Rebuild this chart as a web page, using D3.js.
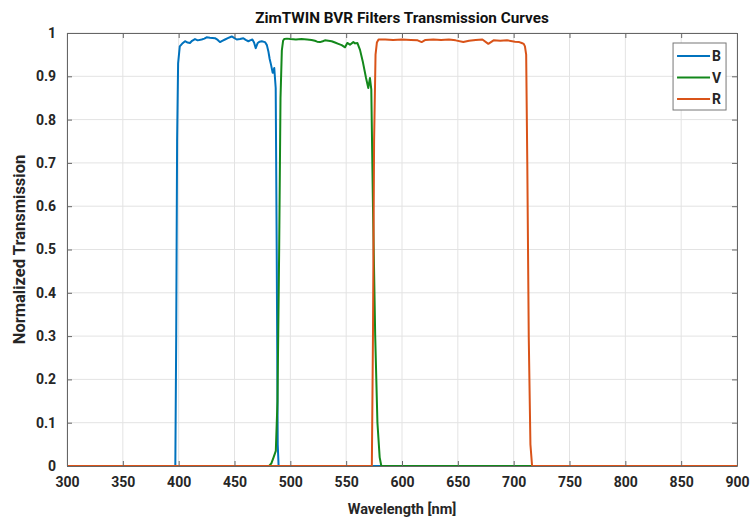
<!DOCTYPE html>
<html>
<head>
<meta charset="utf-8">
<script src="https://cdn.jsdelivr.net/npm/d3@7"></script>
<style>
  body { margin: 0; background: #fff; }
  text { font-family: Roboto, "DejaVu Sans", sans-serif; }
</style>
</head>
<body>
<svg id="chart" width="752" height="522"></svg>
<script>
// wavelength (nm) / transmission pairs
const bWave = [300, 397, 397.8, 398.6, 399.5, 401, 403, 405.7, 408, 410.1, 412, 414.6, 417, 420.6, 423, 425, 428, 432.5, 435, 437, 439, 441.5, 444, 447.5, 450, 452, 455, 457.9, 460, 462.4, 464, 466, 467.5, 469, 470.8, 472.5, 474.4, 477.3, 479, 480.3, 481.5, 482.7, 484.2, 485.6, 486.9, 487.8, 488.7, 489.5, 900];
const bVals = [0, 0, 0.3, 0.75, 0.93, 0.969, 0.975, 0.981, 0.978, 0.977, 0.982, 0.986, 0.983, 0.985, 0.987, 0.990, 0.989, 0.988, 0.984, 0.979, 0.982, 0.985, 0.988, 0.992, 0.988, 0.985, 0.986, 0.988, 0.984, 0.981, 0.983, 0.985, 0.978, 0.965, 0.977, 0.980, 0.981, 0.979, 0.972, 0.958, 0.94, 0.927, 0.908, 0.919, 0.873, 0.5, 0.05, 0, 0];

const vWave = [300, 481, 483, 485, 487, 488.5, 490, 491.2, 492.4, 493.5, 494.5, 497, 500, 505, 510, 515, 519, 522, 524, 526.6, 529, 531, 534, 537, 540, 543, 546, 549, 551, 553.4, 556.4, 558, 560, 562.4, 564.8, 567.8, 569.8, 571.3, 572.5, 574, 576, 578, 580, 581.5, 900];
const vVals = [0, 0, 0.006, 0.02, 0.035, 0.15, 0.5, 0.85, 0.96, 0.982, 0.986, 0.987, 0.986, 0.985, 0.986, 0.985, 0.984, 0.982, 0.98, 0.979, 0.981, 0.983, 0.982, 0.981, 0.978, 0.975, 0.972, 0.967, 0.977, 0.973, 0.979, 0.976, 0.977, 0.961, 0.935, 0.896, 0.873, 0.896, 0.87, 0.6, 0.3, 0.1, 0.02, 0, 0];

const rWave = [300, 573, 574, 575, 576.3, 577.5, 579, 585, 592, 600, 608, 614, 617.6, 621, 628, 635, 642, 648, 654.9, 660, 666, 672, 677.3, 682, 688, 694, 701.2, 705, 707.2, 709, 710.1, 711.2, 712.2, 713.5, 715, 716.5, 900];
const rVals = [0, 0, 0.3, 0.75, 0.95, 0.978, 0.985, 0.985, 0.984, 0.985, 0.984, 0.983, 0.979, 0.984, 0.985, 0.984, 0.985, 0.983, 0.979, 0.982, 0.984, 0.985, 0.975, 0.983, 0.982, 0.983, 0.98, 0.979, 0.977, 0.975, 0.969, 0.95, 0.7, 0.3, 0.05, 0, 0];

const seriesNames = ["B", "V", "R"];
const seriesColors = ["#0072bd", "#13881b", "#d95319"];
const xTicks = [300, 350, 400, 450, 500, 550, 600, 650, 700, 750, 800, 850, 900];
const yTicks = [0, 0.1, 0.2, 0.3, 0.4, 0.5, 0.6, 0.7, 0.8, 0.9, 1];

const series = [
    { name: seriesNames[0], color: seriesColors[0], pts: bWave.map((w, i) => [w, bVals[i]]) },
    { name: seriesNames[1], color: seriesColors[1], pts: vWave.map((w, i) => [w, vVals[i]]) },
    { name: seriesNames[2], color: seriesColors[2], pts: rWave.map((w, i) => [w, rVals[i]]) }
];

const margin = { top: 33, right: 15, bottom: 56, left: 67 };
const W = 752, H = 522;
const width = W - margin.left - margin.right;
const height = H - margin.top - margin.bottom;

const svg = d3.select("#chart");
const g = svg.append("g").attr("transform", `translate(${margin.left},${margin.top})`);

const x = d3.scaleLinear().domain([300, 900]).range([0, width]);
const y = d3.scaleLinear().domain([0, 1]).range([height, 0]);

// grid
g.append("g").selectAll("line").data(xTicks).join("line")
    .attr("x1", d => x(d)).attr("x2", d => x(d)).attr("y1", 0).attr("y2", height)
    .attr("stroke", "#e3e3e3").attr("stroke-width", 1);
g.append("g").selectAll("line").data(yTicks).join("line")
    .attr("x1", 0).attr("x2", width).attr("y1", d => y(d)).attr("y2", d => y(d))
    .attr("stroke", "#e3e3e3").attr("stroke-width", 1);

// curves
const line = d3.line().x(d => x(d[0])).y(d => y(d[1]));
series.forEach(s => {
    g.append("path").datum(s.pts)
        .attr("d", line)
        .attr("fill", "none")
        .attr("stroke", s.color)
        .attr("stroke-width", 2)
        .attr("stroke-linejoin", "round");
});

// axes, ticks inward, box on
const tickCol = "#666";
const axB = g.append("g").attr("transform", `translate(0,${height})`)
    .call(d3.axisBottom(x).tickValues(xTicks).tickSizeInner(-5).tickSizeOuter(0).tickPadding(11));
const axT = g.append("g")
    .call(d3.axisTop(x).tickValues(xTicks).tickSizeInner(-5).tickSizeOuter(0).tickFormat(""));
const axL = g.append("g")
    .call(d3.axisLeft(y).tickValues(yTicks).tickSizeInner(-5).tickSizeOuter(0).tickPadding(11).tickFormat(d3.format("~g")));
const axR = g.append("g").attr("transform", `translate(${width},0)`)
    .call(d3.axisRight(y).tickValues(yTicks).tickSizeInner(-5).tickSizeOuter(0).tickFormat(""));

[axB, axT, axL, axR].forEach(a => {
    a.select(".domain").attr("stroke", tickCol);
    a.selectAll(".tick line").attr("stroke", tickCol);
    a.selectAll("text")
        .attr("fill", "#262626")
        .style("font-size", "14px")
        .style("font-weight", "700");
});

// legend
const leg = g.append("g").attr("transform", `translate(${x(849) - 7},${10})`);
leg.append("rect").attr("x", 0).attr("y", 0).attr("width", 53).attr("height", 67)
    .attr("fill", "#fff").attr("stroke", "#777").attr("stroke-width", 1);
series.forEach((s, i) => {
    const yy = 13 + i * 21.5;
    leg.append("line").attr("x1", 4).attr("x2", 37).attr("y1", yy).attr("y2", yy)
        .attr("stroke", s.color).attr("stroke-width", 2);
    leg.append("text").attr("x", 39).attr("y", yy + 5)
        .attr("fill", "#262626").style("font-size", "14px").style("font-weight", "700")
        .text(s.name);
});

// title & labels
svg.append("text").attr("x", margin.left + width / 2).attr("y", 23)
    .attr("text-anchor", "middle").attr("fill", "#111")
    .style("font-size", "15.3px").style("font-weight", "700")
    .text("ZimTWIN BVR Filters Transmission Curves");

svg.append("text").attr("x", margin.left + width / 2).attr("y", 514)
    .attr("text-anchor", "middle").attr("fill", "#262626")
    .style("font-size", "14.5px").style("font-weight", "700")
    .text("Wavelength [nm]");

svg.append("text")
    .attr("transform", `translate(25,${margin.top + height / 2}) rotate(-90)`)
    .attr("text-anchor", "middle").attr("fill", "#262626")
    .style("font-size", "16.5px").style("font-weight", "700")
    .text("Normalized Transmission");
</script>
</body>
</html>
